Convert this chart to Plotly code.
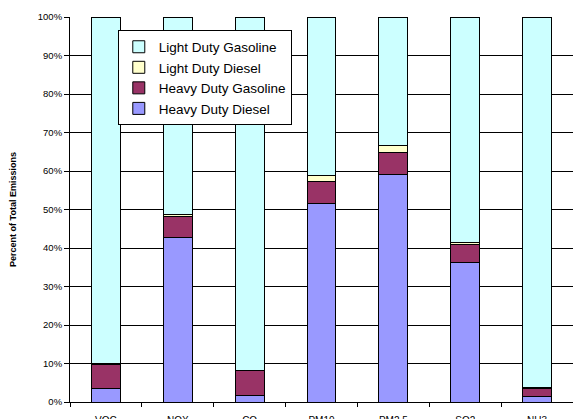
import plotly.graph_objects as go

# Share of total on-road emissions by vehicle class, per pollutant
pollutants = ["VOC", "NOX", "CO", "PM10", "PM2.5", "SO2", "NH3"]
heavy_duty_diesel = [3.5, 42.8, 1.6, 51.6, 59.2, 36.3, 1.5]
heavy_duty_gasoline = [6.2, 5.5, 6.5, 5.7, 5.5, 4.5, 2.1]
light_duty_diesel = [0.2, 0.5, 0.1, 1.6, 1.9, 0.7, 0.1]
light_duty_gasoline = [90.1, 51.2, 91.8, 41.1, 33.4, 58.5, 96.3]
y_ticks = list(range(0, 101, 10))
y_tick_labels = [f"{v}%" for v in y_ticks]

series = [
    ("Heavy Duty Diesel", heavy_duty_diesel, "#9999FF"),
    ("Heavy Duty Gasoline", heavy_duty_gasoline, "#993366"),
    ("Light Duty Diesel", light_duty_diesel, "#FFFFCC"),
    ("Light Duty Gasoline", light_duty_gasoline, "#CCFFFF"),
]

fig = go.Figure()
for name, values, color in series:
    fig.add_trace(go.Bar(
        x=pollutants, y=values, name=name,
        marker=dict(color=color, line=dict(color="#000000", width=1)),
    ))

fig.update_layout(
    width=573, height=419,
    barmode="stack", bargap=0.6,
    plot_bgcolor="white", paper_bgcolor="white",
    margin=dict(l=70, r=0, t=17, b=17),
    font=dict(family="Liberation Sans, Arial", color="#000000"),
    showlegend=True,
    legend=dict(
        x=0.095, y=0.965, xanchor="left", yanchor="top",
        traceorder="reversed",
        bgcolor="white", bordercolor="#000000", borderwidth=1,
        font=dict(size=13.5), tracegroupgap=0, itemwidth=30,
    ),
)
fig.update_yaxes(
    range=[0, 100], tickvals=y_ticks, ticktext=y_tick_labels,
    showgrid=True, gridcolor="#000000", gridwidth=1,
    showline=True, linecolor="#000000", linewidth=1,
    ticks="outside", ticklen=5, tickcolor="#000000",
    tickfont=dict(size=9.5), zeroline=False, automargin=False,
    title=dict(text="<b>Percent of Total Emissions</b>", font=dict(size=9), standoff=19),
)
fig.update_xaxes(
    showline=True, linecolor="#000000", linewidth=1,
    ticks="outside", ticklen=4, tickcolor="#000000", tickson="boundaries",
    tickfont=dict(size=10), showgrid=False, ticklabelstandoff=9,
    automargin=False,
)

fig.write_html("out.html")
